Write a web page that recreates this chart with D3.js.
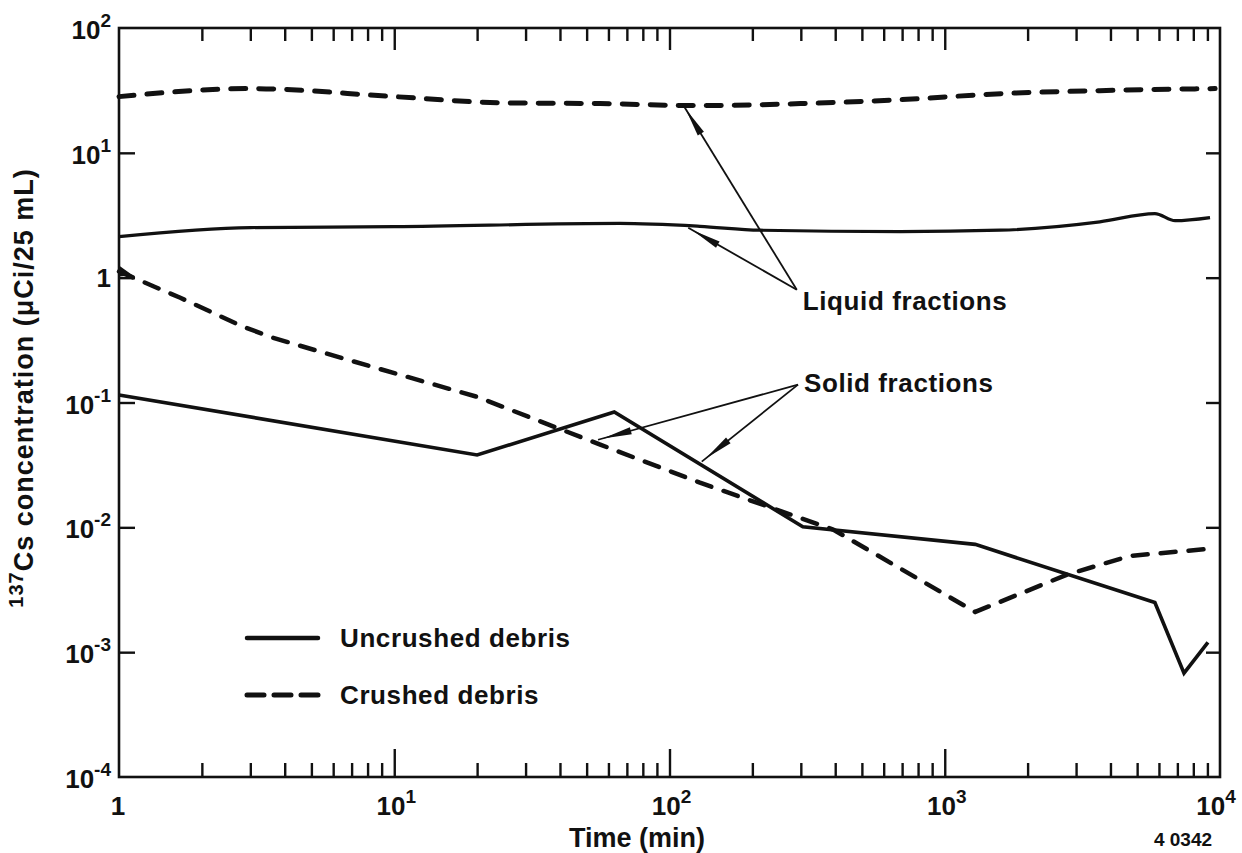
<!DOCTYPE html>
<html>
<head>
<meta charset="utf-8">
<script src="https://cdn.jsdelivr.net/npm/d3@7"></script>
<style>
  html, body { margin: 0; padding: 0; background: #fff; }
  svg { display: block; }
  text { font-family: "Liberation Sans", Arial, Helvetica, sans-serif; font-weight: bold; fill: #111; }
</style>
</head>
<body>
<svg id="chart" width="1242" height="853"></svg>
<script>
// ---------------- DATA ----------------
// Time (min)
const crushedLiquidT = [1, 3, 10, 24, 56, 129, 300, 700, 1600, 3660, 9600];
const crushedLiquidC = [28.2, 32.7, 28.2, 25.2, 24.8, 23.9, 24.8, 26.7, 29.8, 31.5, 32.7];

const uncrushedLiquidT = [1, 3, 10, 66, 129, 213, 690, 1590, 3660, 5800, 6870, 9200];
const uncrushedLiquidC = [2.13, 2.52, 2.56, 2.72, 2.58, 2.40, 2.34, 2.40, 2.80, 3.26, 2.86, 3.03];

const crushedSolidT = [1, 1.67, 2.82, 3.63, 6.2, 11.1, 20, 56, 129, 393, 1290, 2800, 4700, 8970];
const crushedSolidC = [1.12, 0.69, 0.405, 0.33, 0.233, 0.161, 0.111, 0.046, 0.0228, 0.0096, 0.0021, 0.0042, 0.0059, 0.0067];

const uncrushedSolidT = [1, 20, 63, 305, 1290, 5800, 7400, 9040];
const uncrushedSolidC = [0.115, 0.038, 0.084, 0.0101, 0.0073, 0.0025, 0.00068, 0.0012];

// Axis ticks
const xMajorTicks = [1, 10, 100, 1000, 10000];
const xTickBase = ["1", "10", "10", "10", "10"];
const xTickExp = ["", "1", "2", "3", "4"];
const yMajorTicks = [1e-4, 1e-3, 1e-2, 1e-1, 1, 10, 100];
const yTickBase = ["10", "10", "10", "10", "1", "10", "10"];
const yTickExp = ["-4", "-3", "-2", "-1", "", "1", "2"];
const minorMultipliers = [2, 3, 4, 5, 6, 7, 8, 9];

// Annotations (data coordinates)
const liquidLabel = { t: 305, c: 0.554, text: "Liquid fractions" };
const liquidApex = { t: 290, c: 0.80 };
const liquidTargets = [{ t: 112, c: 24.3 }, { t: 117, c: 2.51 }];
const solidLabel = { t: 308, c: 0.122, text: "Solid fractions" };
const solidApex = { t: 293, c: 0.139 };
const solidTargets = [{ t: 55, c: 0.0503 }, { t: 131, c: 0.0336 }];

const legendItems = [
  { label: "Uncrushed debris", dashed: false },
  { label: "Crushed debris", dashed: true }
];

// ---------------- CHART ----------------
const svg = d3.select("#chart");
const L = 119, R = 1220, T = 28, B = 777;
const FS = 26;

const x = d3.scaleLog().domain([1, 1e4]).range([L, R]);
const y = d3.scaleLog().domain([1e-4, 1e2]).range([B, T]);

const xMinor = [];
[1, 10, 100, 1000].forEach(d => minorMultipliers.forEach(m => xMinor.push(d * m)));

// Frame
svg.append("rect").attr("x", L).attr("y", T).attr("width", R - L).attr("height", B - T)
  .attr("fill", "none").attr("stroke", "#111").attr("stroke-width", 2.6);

function styleAxis(g) {
  g.select(".domain").remove();
  g.selectAll(".tick line").attr("stroke", "#111").attr("stroke-width", 2.4);
  g.selectAll(".tick text").remove();
}

// Bottom axis: minor and major ticks pointing inward
svg.append("g").attr("transform", `translate(0,${B})`)
  .call(d3.axisBottom(x).tickValues(xMinor).tickSize(-14).tickFormat(""))
  .call(styleAxis);
svg.append("g").attr("transform", `translate(0,${B})`)
  .call(d3.axisBottom(x).tickValues(xMajorTicks.slice(1, 4)).tickSize(-28).tickFormat(""))
  .call(styleAxis);
// Top axis
svg.append("g").attr("transform", `translate(0,${T})`)
  .call(d3.axisTop(x).tickValues(xMinor).tickSize(-13).tickFormat(""))
  .call(styleAxis);
svg.append("g").attr("transform", `translate(0,${T})`)
  .call(d3.axisTop(x).tickValues(xMajorTicks.slice(1, 4)).tickSize(-22).tickFormat(""))
  .call(styleAxis);
// Left axis
svg.append("g").attr("transform", `translate(${L},0)`)
  .call(d3.axisLeft(y).tickValues(yMajorTicks.slice(1, 6)).tickSize(-16).tickFormat(""))
  .call(styleAxis);
// Right axis
svg.append("g").attr("transform", `translate(${R},0)`)
  .call(d3.axisRight(y).tickValues(yMajorTicks.slice(1, 6)).tickSize(-14).tickFormat(""))
  .call(styleAxis);

// Tick labels
xMajorTicks.forEach((v, i) => {
  const shift = !xTickExp[i] ? -1 : (i === xMajorTicks.length - 1 ? -4 : 2);
  const t = svg.append("text").attr("x", x(v) + shift).attr("y", 815)
    .attr("text-anchor", "middle").attr("font-size", FS);
  t.append("tspan").text(xTickBase[i]);
  if (xTickExp[i]) t.append("tspan").attr("dy", -12).attr("font-size", 19).text(xTickExp[i]);
});
yMajorTicks.forEach((v, i) => {
  const t = svg.append("text").attr("x", 111).attr("y", y(v) + (yTickExp[i] ? 11 : 9))
    .attr("text-anchor", "end").attr("font-size", FS);
  t.append("tspan").text(yTickBase[i]);
  if (yTickExp[i]) t.append("tspan").attr("dy", -12).attr("font-size", 19).text(yTickExp[i]);
});

// Axis titles
svg.append("text").attr("x", 637).attr("y", 847).attr("text-anchor", "middle")
  .attr("font-size", 27).text("Time (min)");
svg.append("text").attr("x", 1183).attr("y", 846).attr("text-anchor", "middle")
  .attr("font-size", 19).text("4 0342");

const yt = svg.append("text").attr("transform", "translate(33,388) rotate(-90)")
  .attr("text-anchor", "middle").attr("font-size", 27).attr("letter-spacing", 1);
yt.append("tspan").attr("font-size", 20).attr("dy", -10).text("137");
yt.append("tspan").attr("dy", 10).text("Cs concentration (\u03bcCi/25 mL)");

// Lines
function zip(ts, cs) { return ts.map((t, i) => ({ t, c: cs[i] })); }
const lineLinear = d3.line().x(d => x(d.t)).y(d => y(d.c)).curve(d3.curveLinear);
const lineSmooth = d3.line().x(d => x(d.t)).y(d => y(d.c)).curve(d3.curveMonotoneX);

const DASH = "15 13";
svg.append("path").datum(zip(crushedLiquidT, crushedLiquidC)).attr("d", lineSmooth)
  .attr("fill", "none").attr("stroke", "#111").attr("stroke-width", 5)
  .attr("stroke-linecap", "round").attr("stroke-dasharray", DASH);
svg.append("path").datum(zip(uncrushedLiquidT, uncrushedLiquidC)).attr("d", lineSmooth)
  .attr("fill", "none").attr("stroke", "#111").attr("stroke-width", 3.2)
  .attr("stroke-linejoin", "round");
const csData = zip(crushedSolidT, crushedSolidC);
svg.append("path").datum(csData).attr("d", lineLinear)
  .attr("fill", "none").attr("stroke", "#111").attr("stroke-width", 4.5)
  .attr("stroke-linecap", "round").attr("stroke-dasharray", DASH);
// small wedge where the crushed solid curve meets the axis
{
  const p0 = csData[0];
  const x0 = x(p0.t), y0 = y(p0.c);
  svg.append("path")
    .attr("d", `M${x0},${y0 - 6} L${x0 + 14},${y0 + 4} L${x0},${y0 + 5} Z`)
    .attr("fill", "#111");
}
svg.append("path").datum(zip(uncrushedSolidT, uncrushedSolidC)).attr("d", lineLinear)
  .attr("fill", "none").attr("stroke", "#111").attr("stroke-width", 3.6)
  .attr("stroke-linejoin", "miter");

// Annotation arrows
function arrow(apex, target) {
  const x0 = x(apex.t), y0 = y(apex.c), x1 = x(target.t), y1 = y(target.c);
  svg.append("line").attr("x1", x0).attr("y1", y0).attr("x2", x1).attr("y2", y1)
    .attr("stroke", "#111").attr("stroke-width", 1.8);
  const dx = x0 - x1, dy = y0 - y1, len = Math.hypot(dx, dy);
  const ux = dx / len, uy = dy / len, px = -uy, py = ux;
  const tip = [x1 + ux * 5, y1 + uy * 5];
  const base = [x1 + ux * 34, y1 + uy * 34];
  const w = 3.6;
  svg.append("path")
    .attr("d", `M${tip[0]},${tip[1]} L${base[0] + px * w},${base[1] + py * w} L${base[0] - px * w},${base[1] - py * w} Z`)
    .attr("fill", "#111");
}
liquidTargets.forEach(tg => arrow(liquidApex, tg));
solidTargets.forEach(tg => arrow(solidApex, tg));

svg.append("text").attr("x", x(liquidLabel.t)).attr("y", y(liquidLabel.c))
  .attr("font-size", 26).attr("letter-spacing", 0.6).text(liquidLabel.text);
svg.append("text").attr("x", x(solidLabel.t)).attr("y", y(solidLabel.c))
  .attr("font-size", 26).attr("letter-spacing", 0.6).text(solidLabel.text);

// Legend
legendItems.forEach((it, i) => {
  const ly = 638 + i * 57;
  svg.append("line").attr("x1", 247).attr("x2", 318).attr("y1", ly).attr("y2", ly)
    .attr("stroke", "#111").attr("stroke-width", it.dashed ? 5 : 4.5)
    .attr("stroke-linecap", "round")
    .attr("stroke-dasharray", it.dashed ? "17 10" : null);
  svg.append("text").attr("x", 340).attr("y", ly + 9).attr("font-size", 26)
    .attr("letter-spacing", 0.6).text(it.label);
});
</script>
</body>
</html>
